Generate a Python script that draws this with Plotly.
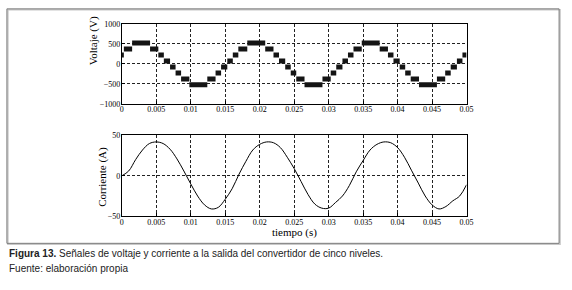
import plotly.graph_objects as go

# ---- data ----
# Voltage staircase: each step = (start time, end time, level)
volt_t_start = [0.0000, 0.0003, 0.0015, 0.0041, 0.0053, 0.0061, 0.0070, 0.0078, 0.0086, 0.0098,
                0.0124, 0.0136, 0.0144, 0.0153, 0.0161, 0.0169, 0.0182, 0.0208, 0.0220, 0.0228,
                0.0237, 0.0245, 0.0253, 0.0265, 0.0291, 0.0303, 0.0311, 0.0320, 0.0328, 0.0336,
                0.0348, 0.0374, 0.0386, 0.0394, 0.0403, 0.0411, 0.0419, 0.0431, 0.0457, 0.0469,
                0.0477, 0.0486, 0.0494]
volt_t_end = [0.0003, 0.0015, 0.0041, 0.0053, 0.0061, 0.0070, 0.0078, 0.0086, 0.0098, 0.0124,
              0.0136, 0.0144, 0.0153, 0.0161, 0.0169, 0.0182, 0.0208, 0.0220, 0.0228, 0.0237,
              0.0245, 0.0253, 0.0265, 0.0291, 0.0303, 0.0311, 0.0320, 0.0328, 0.0336, 0.0348,
              0.0374, 0.0386, 0.0394, 0.0403, 0.0411, 0.0419, 0.0431, 0.0457, 0.0469, 0.0477,
              0.0486, 0.0494, 0.0500]
volt_level = [225, 375, 525, 375, 225, 75, -75, -225, -375, -525,
              -375, -225, -75, 75, 225, 375, 525, 375, 225, 75,
              -75, -225, -375, -525, -375, -225, -75, 75, 225, 375,
              525, 375, 225, 75, -75, -225, -375, -525, -375, -225,
              -75, 75, 225]

# Current waveform samples
curr_t = [0.000, 0.001, 0.002, 0.003, 0.004, 0.005, 0.006, 0.007, 0.008, 0.009,
          0.010, 0.011, 0.012, 0.013, 0.014, 0.015, 0.016, 0.017, 0.018, 0.019,
          0.020, 0.021, 0.022, 0.023, 0.024, 0.025, 0.026, 0.027, 0.028, 0.029,
          0.030, 0.031, 0.032, 0.033, 0.034, 0.035, 0.036, 0.037, 0.038, 0.039,
          0.040, 0.041, 0.042, 0.043, 0.044, 0.045, 0.046, 0.047, 0.048, 0.049, 0.050]
curr_a = [0, 6, 20, 32, 40, 42, 40, 33, 21, 6,
          -10, -25, -36, -41, -39, -29, -16, 2, 18, 32,
          39, 42, 41, 35, 23, 9, -7, -23, -35, -40,
          -40, -33, -25, -12, 5, 19, 32, 39, 42, 41,
          35, 23, 7, -9, -25, -36, -41, -38, -31, -25, -11]

x_ticks = [0, 0.005, 0.01, 0.015, 0.02, 0.025, 0.03, 0.035, 0.04, 0.045, 0.05]
x_ticklabels = ["0", "0.005", "0.01", "0.015", "0.02", "0.025", "0.03", "0.035", "0.04", "0.045", "0.05"]
v_ticks = [-1000, -500, 0, 500, 1000]
i_ticks = [-50, 0, 50]

# ---- build figure ----
W, H = 572, 290
vx, vy = [], []
for a, b, lv in zip(volt_t_start, volt_t_end, volt_level):
    vx += [a, b, None]
    vy += [lv, lv, None]

fig = go.Figure()
fig.add_trace(go.Scatter(x=vx, y=vy, mode="lines", line=dict(color="#141414", width=5),
                         xaxis="x", yaxis="y", showlegend=False, hoverinfo="skip"))
fig.add_trace(go.Scatter(x=curr_t, y=curr_a, mode="lines", line=dict(color="black", width=1, shape="spline"),
                         xaxis="x2", yaxis="y2", showlegend=False))

serif = "Liberation Serif, Times New Roman, serif"
xdom = [121.7 / W, 472 / W]
DASH = "3px,2px"

def xax(anchor):
    return dict(domain=xdom, range=[0, 0.05], anchor=anchor, tickvals=x_ticks, ticktext=x_ticklabels,
                showline=True, mirror=True, linecolor="black", linewidth=1,
                ticks="inside", ticklen=3, tickcolor="black", ticklabelstandoff=-2,
                showgrid=True, gridcolor="#222222", gridwidth=0.8, griddash=DASH,
                zeroline=False, tickfont=dict(family=serif, size=8, color="black"), fixedrange=True)

def yax(anchor, dom, rng, tv):
    return dict(domain=dom, range=rng, anchor=anchor, tickvals=tv,
                showline=True, mirror=True, linecolor="black", linewidth=1,
                ticks="inside", ticklen=3, tickcolor="black", ticklabelstandoff=-1,
                showgrid=True, gridcolor="#222222", gridwidth=0.8, griddash=DASH,
                zeroline=False, tickfont=dict(family=serif, size=8, color="black"), fixedrange=True)

fig.update_layout(
    width=W, height=H,
    margin=dict(l=0, r=0, t=0, b=0),
    paper_bgcolor="white", plot_bgcolor="white",
    xaxis=xax("y"),
    yaxis=yax("x", [1 - 103 / H, 1 - 20.7 / H], [-1000, 1000], v_ticks),
    xaxis2=xax("y2"),
    yaxis2=yax("x2", [1 - 219 / H, 1 - 135.7 / H], [-50, 50], i_ticks),
    shapes=[
        dict(type="rect", xref="paper", yref="paper", x0=6 / W, x1=567 / W, y0=1 - 248 / H, y1=1 - 6 / H,
             line=dict(color="#c8c8c8", width=1.5)),
        dict(type="rect", xref="paper", yref="paper", x0=5 / W, x1=566 / W, y0=1 - 247 / H, y1=1 - 5 / H,
             line=dict(color="#7a7a7a", width=1)),
    ],
    annotations=[
        dict(text="Voltaje (V)", xref="paper", yref="paper", x=93 / W, y=1 - 38 / H, textangle=-90,
             showarrow=False, font=dict(family=serif, size=11, color="black"), xanchor="center", yanchor="middle"),
        dict(text="Corriente (A)", xref="paper", yref="paper", x=102 / W, y=1 - 178 / H, textangle=-90,
             showarrow=False, font=dict(family=serif, size=11, color="black"), xanchor="center", yanchor="middle"),
        dict(text="tiempo (s)", xref="paper", yref="paper", x=297 / W, y=1 - 236 / H,
             showarrow=False, font=dict(family=serif, size=11, color="black"), xanchor="center", yanchor="middle"),
        dict(text="<b>Figura 13.</b> Señales de voltaje y corriente a la salida del convertidor de cinco niveles.",
             xref="paper", yref="paper", x=5 / W, y=1 - 258 / H, showarrow=False,
             font=dict(family="Liberation Sans, Arial, sans-serif", size=10, color="#222222"),
             xanchor="left", yanchor="middle"),
        dict(text="Fuente: elaboración propia",
             xref="paper", yref="paper", x=5 / W, y=1 - 273 / H, showarrow=False,
             font=dict(family="Liberation Sans, Arial, sans-serif", size=10, color="#222222"),
             xanchor="left", yanchor="middle"),
    ],
)

fig.write_html("out.html", config={"displayModeBar": False},
               post_script="document.body.style.margin='0';")
